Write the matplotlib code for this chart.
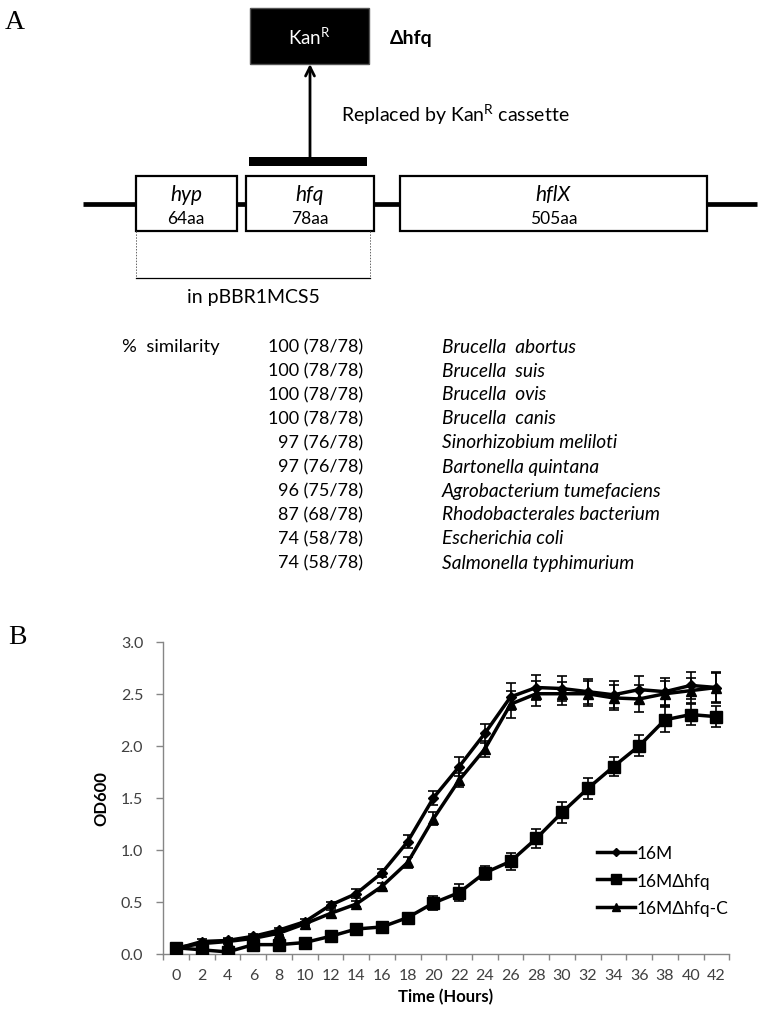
import matplotlib
matplotlib.use("Agg")
import matplotlib.pyplot as plt
from matplotlib.patches import Rectangle

# ---------------- data ----------------
time_hours = [0, 2, 4, 6, 8, 10, 12, 14, 16, 18, 20, 22, 24, 26, 28, 30, 32, 34, 36, 38, 40, 42]
od_16M = [0.05, 0.12, 0.13, 0.17, 0.23, 0.31, 0.47, 0.58, 0.78, 1.08, 1.50, 1.80, 2.12, 2.47,
          2.56, 2.55, 2.52, 2.49, 2.54, 2.52, 2.58, 2.56]
err_16M = [0.02, 0.02, 0.02, 0.02, 0.02, 0.03, 0.03, 0.04, 0.04, 0.06, 0.07, 0.09, 0.09, 0.13,
           0.12, 0.12, 0.12, 0.13, 0.13, 0.13, 0.13, 0.15]
od_hfq = [0.06, 0.04, 0.02, 0.09, 0.09, 0.11, 0.17, 0.24, 0.26, 0.35, 0.49, 0.59, 0.78, 0.89,
          1.11, 1.36, 1.59, 1.80, 2.00, 2.25, 2.30, 2.28]
err_hfq = [0.02, 0.02, 0.02, 0.02, 0.02, 0.02, 0.03, 0.03, 0.03, 0.04, 0.07, 0.08, 0.07, 0.08,
           0.09, 0.10, 0.10, 0.09, 0.10, 0.12, 0.10, 0.10]
od_C = [0.06, 0.10, 0.12, 0.15, 0.20, 0.29, 0.39, 0.48, 0.65, 0.88, 1.30, 1.67, 1.97, 2.40,
        2.50, 2.50, 2.50, 2.46, 2.45, 2.50, 2.53, 2.56]
err_C = [0.02, 0.02, 0.02, 0.02, 0.02, 0.02, 0.03, 0.03, 0.03, 0.05, 0.06, 0.07, 0.08, 0.13,
         0.12, 0.11, 0.12, 0.12, 0.13, 0.12, 0.12, 0.14]
series_labels = ["16M", "16M\u0394hfq", "16M\u0394hfq-C"]
y_ticks = [0.0, 0.5, 1.0, 1.5, 2.0, 2.5, 3.0]

genes = ["hyp", "hfq", "hflX"]
gene_lengths = ["64aa", "78aa", "505aa"]

similarity = ["100 (78/78)", "100 (78/78)", "100 (78/78)", "100 (78/78)", "97 (76/78)",
              "97 (76/78)", "96 (75/78)", "87 (68/78)", "74 (58/78)", "74 (58/78)"]
species = ["Brucella  abortus", "Brucella  suis", "Brucella  ovis", "Brucella  canis",
           "Sinorhizobium meliloti", "Bartonella quintana", "Agrobacterium tumefaciens",
           "Rhodobacterales bacterium", "Escherichia coli", "Salmonella typhimurium"]

# ---------------- figure ----------------
W, H = 761, 1012
fig = plt.figure(figsize=(W / 100, H / 100), dpi=100)
sans = ["Lato", "DejaVu Sans"]
serif = ["Liberation Serif", "DejaVu Serif"]

# Panel A canvas in pixel coordinates
a0 = fig.add_axes([0, 0, 1, 1], zorder=0)
a0.set_xlim(0, W)
a0.set_ylim(H, 0)
a0.axis("off")

a0.text(5, 22, "A", fontsize=20, family=serif, ha="left", va="center")
a0.text(8, 637, "B", fontsize=20, family=serif, ha="left", va="center")

# KanR box
a0.add_patch(Rectangle((250, 9), 119, 56, facecolor="black", edgecolor="#555555", lw=1))
a0.text(309.5, 37, r"Kan$^{\mathregular{R}}$", color="white", fontsize=13.5, family=sans,
        ha="center", va="center")
a0.text(390, 38, "\u0394hfq", fontsize=14, family=sans, weight="bold", ha="left", va="center")

# arrow
a0.annotate("", xy=(310, 65), xytext=(310, 159),
            arrowprops=dict(arrowstyle="->", lw=2, color="black", mutation_scale=16,
                            shrinkA=0, shrinkB=0))
a0.text(341, 115, r"Replaced by Kan$^{\mathregular{R}}$ cassette", fontsize=14, family=sans,
        ha="left", va="center")

# deletion bar
a0.add_patch(Rectangle((249, 158), 118, 9, facecolor="black", edgecolor="none"))

# gene line
a0.plot([83, 757], [205, 205], color="black", lw=3.4, solid_capstyle="butt", zorder=1)

gene_boxes = [(135.5, 236.5), (246, 373.5), (400, 707)]
for (x0, x1), g, L in zip(gene_boxes, genes, gene_lengths):
    a0.add_patch(Rectangle((x0, 177), x1 - x0, 55, facecolor="white", edgecolor="black",
                           lw=1.6, zorder=2))
    xc = (x0 + x1) / 2
    a0.text(xc, 195, g, fontsize=15, family=sans, style="italic", ha="center", va="center",
            zorder=3)
    a0.text(xc, 219, L, fontsize=12.5, family=sans, ha="center", va="center", zorder=3)

# bracket
a0.plot([135.5, 135.5], [232, 279], color="#666666", lw=0.7, ls=(0, (1.5, 1.5)))
a0.plot([369.5, 369.5], [232, 279], color="#666666", lw=0.7, ls=(0, (1.5, 1.5)))
a0.plot([135.5, 369.5], [279, 279], color="black", lw=0.9)
a0.text(253.5, 297, "in pBBR1MCS5", fontsize=14, family=sans, ha="center", va="center")

# similarity table
a0.text(122, 347, "%  similarity", fontsize=13.3, family=sans, ha="left", va="center")
row_y0, row_dy = 347, 24.0
for i, (s, sp) in enumerate(zip(similarity, species)):
    y = row_y0 + i * row_dy
    a0.text(363, y, s, fontsize=13, family=sans, ha="right", va="center")
    a0.text(442, y, sp, fontsize=13.8, family=sans, style="italic", ha="left", va="center")

# ---------------- Panel B ----------------
left, right, top, bottom = 163.3, 729.3, 642.7, 955.0
ax = fig.add_axes([left / W, 1 - bottom / H, (right - left) / W, (bottom - top) / H], zorder=2)
ax.set_facecolor("none")
idx = list(range(len(time_hours)))

styles = [dict(marker="D", ms=5.5), dict(marker="s", ms=9), dict(marker="^", ms=7)]
handles = []
for ys, es, st, lab in zip([od_16M, od_hfq, od_C], [err_16M, err_hfq, err_C], styles,
                           series_labels):
    ax.errorbar(idx, ys, yerr=es, fmt="none", ecolor="black", elinewidth=1.2, capsize=3.8,
                capthick=1.2, zorder=3)
    ln, = ax.plot(idx, ys, color="black", lw=2.5, marker=st["marker"], ms=st["ms"],
                  mfc="black", mec="black", zorder=4, label=lab)
    handles.append(ln)

ax.set_xlim(-0.5, len(time_hours) - 0.5)
ax.set_ylim(0, 3.0)
gray = "#868686"
for s in ["top", "right"]:
    ax.spines[s].set_visible(False)
for s in ["left", "bottom"]:
    ax.spines[s].set_color(gray)
    ax.spines[s].set_linewidth(1.0)

ax.set_yticks(y_ticks)
ax.set_yticklabels([f"{v:.1f}" for v in y_ticks], fontsize=11.5, family=sans, color="#404040")
ax.tick_params(axis="y", direction="out", length=5, width=1, color=gray, pad=9.5)

# boundary ticks (major) without labels, labels at category centres (minor)
ax.set_xticks([i - 0.5 for i in range(len(time_hours) + 1)])
ax.set_xticklabels([])
ax.set_xticks(idx, minor=True)
ax.set_xticklabels([str(t) for t in time_hours], minor=True, fontsize=11.5, family=sans,
                   color="#404040")
ax.tick_params(axis="x", which="major", direction="out", length=4, width=1, color=gray)
ax.tick_params(axis="x", which="minor", length=0, pad=10)

fig.text(101.5 / W, 1 - 799 / H, "OD600", rotation=90, fontsize=12, family=sans,
         weight="bold", ha="center", va="center")
fig.text(446 / W, 1 - 997 / H, "Time (Hours)", fontsize=12, family=sans, weight="bold",
         ha="center", va="center")

leg = ax.legend(handles, series_labels, loc="center left", bbox_to_anchor=(597 / W, 1 - 881.5 / H),
                bbox_transform=fig.transFigure, frameon=False,
                prop={"family": sans, "size": 12.5}, handlelength=2.2, handletextpad=0.1,
                labelspacing=0.65, borderpad=0, borderaxespad=0)
for line in leg.get_lines():
    line.set_markersize(line.get_markersize() * 0.8)

fig.savefig("out.png", dpi=100, facecolor="white")
